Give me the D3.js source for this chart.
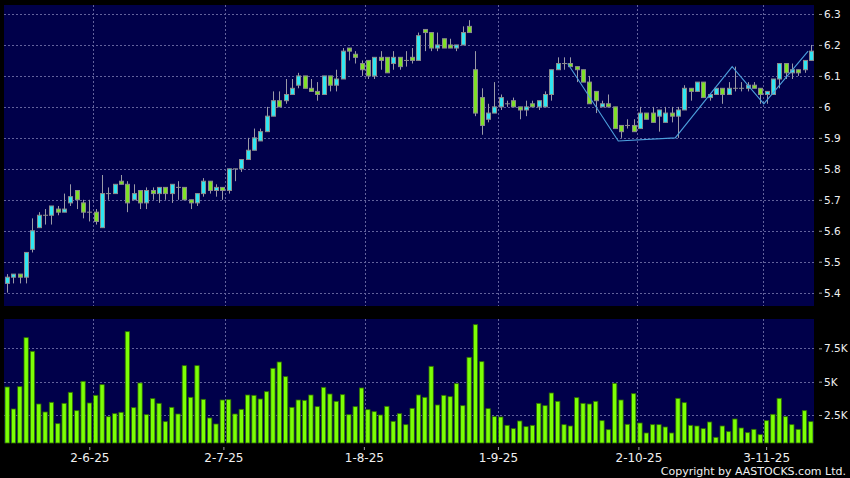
<!DOCTYPE html>
<html><head><meta charset="utf-8">
<script src="https://cdn.jsdelivr.net/npm/d3@7"></script>
<style>html,body{margin:0;padding:0;background:#000;} svg{display:block}</style>
</head><body><svg id="c" width="850" height="478"></svg>
<script>
// ---- data (daily candles, 14-5-25 .. 13-11-25) ----
const openP  = [5.43,5.45,5.46,5.45,5.54,5.61,5.65,5.65,5.67,5.66,5.69,5.73,5.69,5.66,5.66,5.61,5.72,5.72,5.76,5.75,5.70,5.73,5.69,5.73,5.72,5.74,5.72,5.74,5.74,5.70,5.69,5.72,5.76,5.73,
  5.74,5.73,5.80,5.80,5.83,5.86,5.89,5.92,5.97,6.02,6.02,6.04,6.07,6.10,6.06,6.05,6.04,6.10,6.07,6.09,6.19,6.17,6.14,6.15,6.10,6.16,6.16,6.14,6.16,6.15,6.16,6.15,6.25,
  6.24,6.19,6.22,6.20,6.19,6.20,6.26,6.12,6.03,5.96,5.98,6.00,6.01,6.02,6.00,5.99,6.01,6.00,6.00,6.04,6.12,6.14,6.14,6.13,6.12,6.08,6.05,6.00,6.01,6.00,5.94,5.94,5.94,
  5.93,5.98,5.98,5.97,5.95,5.98,5.97,5.99,6.06,6.05,6.08,6.03,6.04,6.06,6.04,6.06,6.06,6.06,6.07,6.06,6.04,6.04,6.09,6.14,6.11,6.12,6.12,6.15];
const highP  = [5.46,5.46,5.46,5.53,5.64,5.66,5.67,5.68,5.68,5.72,5.75,5.73,5.70,5.70,5.67,5.78,5.74,5.75,5.78,5.76,5.75,5.73,5.74,5.74,5.74,5.74,5.75,5.76,5.74,5.70,5.72,5.77,5.76,5.75,
  5.74,5.80,5.80,5.83,5.90,5.93,5.93,6.00,6.05,6.05,6.09,6.09,6.11,6.10,6.09,6.08,6.10,6.10,6.12,6.19,6.19,6.18,6.15,6.15,6.16,6.18,6.16,6.18,6.16,6.18,6.19,6.24,6.25,
  6.24,6.24,6.22,6.22,6.20,6.26,6.28,6.18,6.06,6.01,6.08,6.04,6.02,6.03,6.00,6.02,6.02,6.02,6.05,6.12,6.16,6.16,6.16,6.13,6.12,6.10,6.05,6.02,6.04,6.00,5.94,5.96,5.96,
  6.00,5.98,6.00,5.99,6.00,6.00,6.00,6.07,6.06,6.08,6.08,6.04,6.06,6.06,6.08,6.13,6.08,6.08,6.08,6.06,6.05,6.09,6.14,6.14,6.14,6.12,6.15,6.20];
const lowP   = [5.40,5.43,5.43,5.43,5.53,5.61,5.62,5.62,5.65,5.66,5.68,5.67,5.64,5.63,5.62,5.61,5.70,5.72,5.75,5.66,5.70,5.67,5.67,5.70,5.69,5.70,5.69,5.70,5.70,5.67,5.68,5.71,5.72,5.71,
  5.70,5.72,5.76,5.79,5.83,5.86,5.89,5.92,5.97,6.00,6.01,6.04,6.06,6.06,6.05,6.02,6.04,6.05,6.05,6.09,6.15,6.14,6.10,6.09,6.09,6.12,6.11,6.12,6.12,6.13,6.14,6.15,6.18,
  6.18,6.18,6.19,6.19,6.18,6.20,6.24,5.97,5.91,5.95,5.98,5.99,6.00,6.00,5.96,5.97,6.00,5.99,6.00,6.02,6.12,6.12,6.13,6.08,6.08,6.01,5.98,6.00,6.00,5.93,5.90,5.93,5.92,
  5.93,5.96,5.95,5.92,5.95,5.95,5.90,5.99,6.02,6.05,6.03,6.02,6.04,6.01,6.04,6.05,6.05,6.05,6.06,6.01,6.01,6.04,6.06,6.09,6.09,6.10,6.11,6.15];
const closeP = [5.45,5.46,5.45,5.53,5.60,5.65,5.65,5.68,5.66,5.67,5.71,5.70,5.66,5.66,5.63,5.72,5.72,5.75,5.75,5.69,5.72,5.69,5.73,5.72,5.74,5.72,5.75,5.74,5.70,5.69,5.72,5.76,5.73,5.74,
  5.73,5.80,5.80,5.83,5.86,5.90,5.92,5.97,6.02,6.00,6.04,6.06,6.10,6.06,6.05,6.04,6.10,6.07,6.09,6.18,6.18,6.16,6.12,6.10,6.16,6.15,6.11,6.16,6.13,6.15,6.15,6.23,6.24,
  6.19,6.20,6.19,6.19,6.20,6.24,6.24,5.98,5.94,5.98,6.00,6.03,6.01,6.00,5.99,6.00,6.00,6.02,6.04,6.12,6.14,6.14,6.13,6.12,6.08,6.01,6.02,6.01,6.00,5.93,5.92,5.94,5.92,
  5.98,5.96,5.95,5.99,5.98,5.97,5.99,6.06,6.05,6.08,6.03,6.04,6.06,6.04,6.06,6.06,6.06,6.07,6.06,6.04,6.05,6.09,6.14,6.11,6.12,6.11,6.15,6.18];
const volume = [4600,2950,4625,8300,7275,3325,2725,3450,1850,3375,4200,2825,5025,3400,3975,4775,2375,2600,2700,8750,3050,4900,2525,3725,3375,2000,3075,2575,6200,3825,6200,3675,2275,1825,
  3625,3650,2575,2925,4000,3975,3700,4250,6000,6475,5375,3075,3625,3600,4000,3125,4575,4075,3525,4025,2525,3125,4525,2900,2750,2500,3150,2025,2600,1775,3000,4000,3825,
  6150,3250,3975,3875,4850,3200,6825,9275,6500,2975,2375,2350,1725,1475,2050,1625,1725,3375,3200,4150,3525,1775,1675,3800,3375,3325,3525,2075,1400,4875,3625,1800,4100,
  1900,1150,1775,1775,1600,1150,3750,3425,1725,1675,1475,1975,825,1675,1250,2200,1525,1175,1425,1025,2075,2550,3750,2375,1775,1425,2825,2000];
const priceTicks = [5.4,5.5,5.6,5.7,5.8,5.9,6.0,6.1,6.2,6.3];
const priceTickLabels = ["5.4","5.5","5.6","5.7","5.8","5.9","6","6.1","6.2","6.3"];
const volTicks = [2500,5000,7500];
const volTickLabels = ["2.5K","5K","7.5K"];
const dateTickIndex = [13,34,56,77,99,119];
const dateTickLabels = ["2-6-25","2-7-25","1-8-25","1-9-25","2-10-25","3-11-25"];
const zigzagIndex = [89,97,106,115,120,127];
const zigzagValue = [6.14,5.89,5.90,6.13,6.01,6.18];

// ---- layout / style ----
const N = openP.length;
const main = {x0:4, x1:814, y0:5, y1:306};
const vol  = {x0:4, x1:814, y0:319, y1:443};
const BG = "#00004a", GRID = "#62629c", UP = "#2fe6f2", DOWN = "#7ee126",
      OUTLINE = "#8c8c8c", WICK = "#9a9aa6", VOLC = "#7cff06", VOLO = "#2f6e00";
const FONT = "DejaVu Sans, sans-serif";

const svg = d3.select("#c");
svg.append("rect").attr("width",850).attr("height",478).attr("fill","#000");

const x = d3.scaleBand().domain(d3.range(N)).range([main.x0, main.x1]).paddingInner(0.3).paddingOuter(0.15);
const xv = d3.scaleBand().domain(d3.range(N)).range([vol.x0, vol.x1]).paddingInner(0.16).paddingOuter(0.08);
const step = x.step();
const xc = i => x(i) + x.bandwidth()/2;
const xt = d3.scalePoint().domain(d3.range(N)).range([6.3, 817.2]);
const y = d3.scaleLinear().domain([5.357, 6.329]).range([main.y1, main.y0]);
const yv = d3.scaleLinear().domain([400, 9700]).range([vol.y1, vol.y0]);

// panels
[main, vol].forEach(p => svg.append("rect").attr("x",p.x0).attr("y",p.y0)
  .attr("width",p.x1-p.x0).attr("height",p.y1-p.y0).attr("fill",BG));

// grid
const grid = svg.append("g").attr("stroke",GRID).attr("stroke-width",1).attr("stroke-dasharray","2,2").attr("shape-rendering","crispEdges");
grid.selectAll(".hp").data(priceTicks).join("line")
  .attr("x1",main.x0).attr("x2",main.x1).attr("y1",d=>Math.round(y(d))+0.5).attr("y2",d=>Math.round(y(d))+0.5);
grid.selectAll(".hv").data(volTicks).join("line")
  .attr("x1",vol.x0).attr("x2",vol.x1).attr("y1",d=>Math.round(yv(d))+0.5).attr("y2",d=>Math.round(yv(d))+0.5);
[main, vol].forEach(p => {
  grid.append("g").selectAll("line").data(dateTickIndex).join("line")
    .attr("x1",i=>Math.round(xc(i)+step/2)+0.5).attr("x2",i=>Math.round(xc(i)+step/2)+0.5)
    .attr("y1",p.y0).attr("y2",p.y1);
});

// volume bars
svg.append("g").selectAll("rect").data(volume).join("rect")
  .attr("x",(d,i)=>xv(i)+0.5).attr("width",xv.bandwidth()-1)
  .attr("y",d=>yv(d)).attr("height",d=>vol.y1-yv(d))
  .attr("fill",VOLC).attr("stroke",VOLO).attr("stroke-width",0.8);

// candles
const candles = d3.range(N).map(i=>({i,o:openP[i],h:highP[i],l:lowP[i],c:closeP[i]}));
const cg = svg.append("g");
cg.selectAll("line").data(candles).join("line")
  .attr("x1",d=>Math.round(xc(d.i))+0.5).attr("x2",d=>Math.round(xc(d.i))+0.5)
  .attr("y1",d=>y(d.h)).attr("y2",d=>y(d.l))
  .attr("stroke",WICK).attr("stroke-width",1);
cg.selectAll("rect").data(candles).join("rect")
  .attr("x",d=>Math.round(xc(d.i))-2+0.5).attr("width",4)
  .attr("y",d=>y(Math.max(d.o,d.c))).attr("height",d=>Math.max(0.01, Math.abs(y(d.o)-y(d.c))))
  .attr("fill",d=>d.c>d.o?UP:(d.c<d.o?DOWN:OUTLINE))
  .attr("stroke",OUTLINE).attr("stroke-width",1);

// zigzag line
svg.append("path")
  .datum(zigzagIndex.map((idx,k)=>[xc(idx)-0.43*step, y(zigzagValue[k])]))
  .attr("d", d3.line()).attr("fill","none").attr("stroke","#4c9fdc").attr("stroke-width",1.1);

// axes
const styleAxis = g => {
  g.select(".domain").remove();
  g.selectAll(".tick line").attr("stroke","#a0a0a0");
  g.selectAll("text").attr("fill","#f0f0f0").attr("font-family",FONT);
};
svg.append("g").attr("transform",`translate(819,0)`)
  .call(d3.axisRight(y).tickValues(priceTicks).tickSize(3).tickPadding(2)
    .tickFormat((d,k)=>priceTickLabels[k]))
  .call(styleAxis).selectAll("text").attr("font-size","10.5px");
svg.append("g").attr("transform",`translate(819,0)`)
  .call(d3.axisRight(yv).tickValues(volTicks).tickSize(3).tickPadding(2)
    .tickFormat((d,k)=>volTickLabels[k]))
  .call(styleAxis).selectAll("text").attr("font-size","10.5px");
svg.append("g").attr("transform",`translate(0,447)`)
  .call(d3.axisBottom(xt).tickValues(dateTickIndex).tickSize(3).tickPadding(3)
    .tickFormat((d,k)=>dateTickLabels[k]))
  .call(styleAxis).selectAll("text").attr("font-size","12px");

svg.append("text").attr("x",846).attr("y",474.5).attr("text-anchor","end")
  .attr("font-family",FONT).attr("font-size","11px").attr("fill","#f0f0f0")
  .text("Copyright by AASTOCKS.com Ltd.");
</script>
</body></html>
